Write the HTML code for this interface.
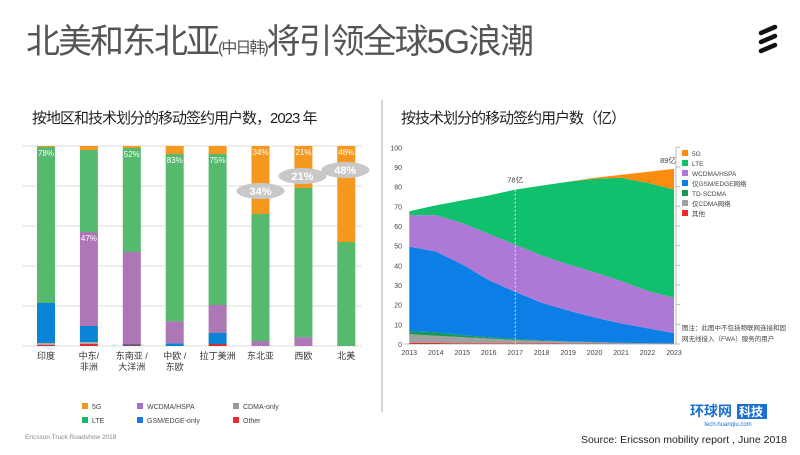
<!DOCTYPE html>
<html><head><meta charset="utf-8">
<style>
body{margin:0;width:800px;height:450px;background:#fff;overflow:hidden;font-family:"Liberation Sans","Noto Sans CJK SC",sans-serif;}
svg text{font-family:"Liberation Sans","Noto Sans CJK SC",sans-serif;}
</style></head>
<body>
<svg id="s" width="800" height="450" viewBox="0 0 800 450">
<text x="26" y="53" font-size="34" fill="#555" letter-spacing="-2">北美和东北亚<tspan font-size="16">(中日韩)</tspan>将引领全球5G浪潮</text>
<g stroke="#111" stroke-width="4.5" stroke-linecap="round">
<line x1="761" y1="33" x2="775" y2="27"/><line x1="761" y1="42" x2="775" y2="36"/><line x1="761" y1="51" x2="775" y2="45"/>
</g>
<text x="32" y="123" font-size="15" fill="#222" letter-spacing="-1">按地区和技术划分的移动签约用户数，2023 年</text>
<line x1="382" y1="100" x2="382" y2="412" stroke="#aaa" stroke-width="1"/>
<text x="401" y="123" font-size="15" fill="#222" letter-spacing="-1">按技术划分的移动签约用户数（亿）</text>
<g id="left"></g>
<g id="right"></g>
<g font-size="7" fill="#444">
<rect x="82" y="403" width="6" height="6" fill="#f7931e"/><text x="92" y="409">5G</text>
<rect x="82" y="417" width="6" height="6" fill="#1bb56a"/><text x="92" y="423">LTE</text>
<rect x="137" y="403" width="6" height="6" fill="#a96fd0"/><text x="147" y="409">WCDMA/HSPA</text>
<rect x="137" y="417" width="6" height="6" fill="#1a7ae0"/><text x="147" y="423">GSM/EDGE-only</text>
<rect x="233" y="403" width="6" height="6" fill="#999"/><text x="243" y="409">CDMA-only</text>
<rect x="233" y="417" width="6" height="6" fill="#ee2a2a"/><text x="243" y="423">Other</text>
</g>
<text x="25" y="439" font-size="6.5" fill="#888">Ericsson Truck Roadshow 2018</text>
<text x="690" y="416" font-size="14" font-weight="bold" fill="#1a6fd0">环球网</text>
<rect x="737" y="404" width="30" height="15" fill="#1a6fd0"/>
<text x="739" y="416" font-size="12" font-weight="bold" fill="#fff">科技</text>
<text x="728" y="426" font-size="6" fill="#1a6fd0" text-anchor="middle">tech.huanqiu.com</text>
<text x="787" y="443" font-size="10.5" fill="#222" text-anchor="end">Source: Ericsson mobility report , June 2018</text>
</svg>
<script>
const NS='http://www.w3.org/2000/svg';
// ---- left chart data ----
const regions=['印度','中东/非洲','东南亚 / 大洋洲','中欧 / 东欧','拉丁美洲','东北亚','西欧','北美'];
const regionLines=[['印度'],['中东/','非洲'],['东南亚 /','大洋洲'],['中欧 /','东欧'],['拉丁美洲'],['东北亚'],['西欧'],['北美']];
const barOther=[0.5,1,0.5,0,1,0,0,0];
const barCdma=[1,1,0,0,0,0,0,0];
const barGsm=[20,8,0.5,1.3,5.5,0,0,0];
const barWcdma=[0,47,46,11,14,2.5,4.3,0];
const barLte=[78,41,52,83.7,75.5,63.5,74.7,52];
const bar5g=[0.5,2,1,4,4,34,21,48];
const topLabels=['78%','47%','52%','83%','75%','34%','21%','48%'];
// ---- right chart data ----
const years=['2013','2014','2015','2016','2017','2018','2019','2020','2021','2022','2023'];
const sOther=[0.5,0.5,0.4,0.4,0.3,0.3,0.2,0.2,0.1,0.1,0.1];
const sCdma=[4.5,3.7,3.1,2.4,1.7,1.2,1.0,0.6,0.4,0.2,0.1];
const sTd=[1.5,1.8,1.0,0.7,0.5,0.3,0.1,0.2,0.1,0.1,0.1];
const sGsm=[43,41,36,29,24,19.2,15.7,12.5,9.9,7.6,5.2];
const sWcdma=[16,18.5,21,23.5,24,24,23.5,23,21.5,19,18];
const sLte=[2,5,11.5,19.5,28,35.5,42,47.5,52.5,55,55];
const s5g=[0,0,0,0,0,0,0,0.5,1.5,5.5,10.5];
const yTicks=[0,10,20,30,40,50,60,70,80,90,100];
function el(tag,attrs,parent){const e=document.createElementNS(NS,tag);for(const k in attrs)e.setAttribute(k,attrs[k]);parent.appendChild(e);return e;}
// left
const L=document.getElementById('left');
const lx=i=>46+i*42.9, ly=v=>346-v*2;
for(let g=0;g<=5;g++){const gl=el('line',{x1:22,x2:362,y1:ly(g*20),y2:ly(g*20),stroke:'#ddd','stroke-width':1},L);

}
const bSeries=[[barOther,'#e02a2a'],[barCdma,'#aaa'],[barGsm,'#0a84d6'],[barWcdma,'#ad76b5'],[barLte,'#55b96e'],[bar5g,'#f5981f']];
regions.forEach((r,i)=>{let c=0;
 bSeries.forEach(([arr,col])=>{const v=arr[i];if(v>0){const rr=el('rect',{x:lx(i)-9,y:ly(c+v),width:18,height:v*2,fill:col},L);
 
 }c+=v;});
 let labY;
 if(i===1) labY=ly(barOther[i]+barCdma[i]+barGsm[i]+barWcdma[i])+9;
 else if(i>=5) labY=ly(100)+9;
 else labY=ly(100-bar5g[i])+9;
 const tl=el('text',{x:lx(i),y:labY,'font-size':8,fill:'#fff','text-anchor':'middle'},L);tl.textContent=topLabels[i];
 
 
 regionLines[i].forEach((ln,k)=>{const t=el('text',{x:lx(i),y:359+k*11,'font-size':9,fill:'#333','text-anchor':'middle'},L);t.textContent=ln;
 
 });
});
// 5G bubbles
const bubbleOffset={5:-23,6:-12,7:-72};
[5,6,7].forEach(i=>{const cy=ly(100-bar5g[i])+bubbleOffset[i];const cx=lx(i)+(i==5?0:-1);
 const e=el('ellipse',{cx:cx,cy:cy,rx:24,ry:8,fill:'#c8c8c8'},L);
 
 
 const t=el('text',{x:cx,y:cy+4,'font-size':11,'font-weight':'bold',fill:'#fff','text-anchor':'middle'},L);t.textContent=bar5g[i]+'%';
 
 });
// right
const R=document.getElementById('right');
const rx=i=>409.3+i*26.47, ry=v=>344-v*1.967;
yTicks.forEach(v=>{const t=el('text',{x:402,y:ry(v)+3,'font-size':7,fill:'#444','text-anchor':'end'},R);t.textContent=v;
 
 
 const tk=el('line',{x1:676,x2:680,y1:ry(v),y2:ry(v),stroke:'#bbb'},R);
 
 });
const ax=el('line',{x1:676,x2:676,y1:ry(100),y2:ry(0),stroke:'#bbb'},R);


const bl=el('line',{x1:404,x2:676,y1:ry(0),y2:ry(0),stroke:'#bbb'},R);


const aSeries=[[sOther,'#ee2a2a','其他'],[sCdma,'#a0a0a0','仅CDMA网络'],[sTd,'#149a55','TD-SCDMA'],[sGsm,'#0c7fe6','仅GSM/EDGE网络'],[sWcdma,'#ad78d6','WCDMA/HSPA'],[sLte,'#10c06c','LTE'],[s5g,'#fb8c10','5G']];
let base=years.map(()=>0);
aSeries.forEach(([arr,col])=>{const top=base.map((b,i)=>b+arr[i]);
 let d='M'+years.map((y,i)=>rx(i)+','+ry(top[i])).join('L');
 for(let i=years.length-1;i>=0;i--)d+='L'+rx(i)+','+ry(base[i]);
 const p=el('path',{d:d+'Z',fill:col},R);
 
 
 base=top;});
years.forEach((y,i)=>{const t=el('text',{x:rx(i),y:355,'font-size':7,fill:'#444','text-anchor':'middle'},R);t.textContent=y;
 
 });
const i17=years.indexOf('2017');
const dl=el('line',{x1:rx(i17),x2:rx(i17),y1:ry(base[i17]),y2:ry(0),stroke:'#fff','stroke-dasharray':'2,2','stroke-width':0.8},R);


const a1=el('text',{x:rx(i17),y:ry(base[i17])-7,'font-size':7.5,fill:'#444','text-anchor':'middle'},R);a1.textContent='78亿';


const a2=el('text',{x:rx(10)-6,y:ry(base[10])-6,'font-size':7.5,fill:'#444','text-anchor':'middle'},R);a2.textContent='89亿';


aSeries.slice().reverse().forEach(([arr,col,name],k)=>{
 const r=el('rect',{x:682,y:150+k*10,width:6,height:6,fill:col},R);
 
 
 const t=el('text',{x:692,y:156+k*10,'font-size':6.5,fill:'#444'},R);t.textContent=name;
 
 });
['图注：此图中不包括物联网连接和固','网无线接入（FWA）服务的用户'].forEach((s,k)=>{const t=el('text',{x:682,y:330+k*11,'font-size':6.5,fill:'#444'},R);t.textContent=s;
 
 });
</script>
</body></html>
